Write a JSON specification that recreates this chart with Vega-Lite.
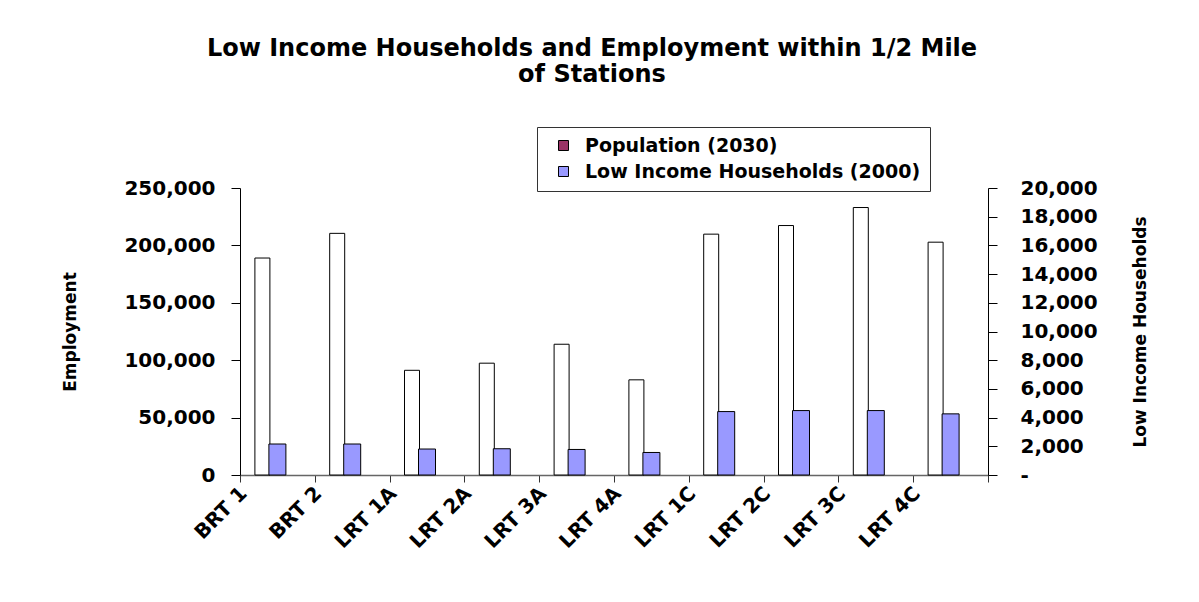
{
  "$schema": "https://vega.github.io/schema/vega-lite/v6.json",
  "autosize": {"type": "none"},
  "width": 748,
  "height": 287,
  "padding": {"left": 240, "top": 188, "right": 211, "bottom": 127},
  "background": "white",
  "title": {
    "text": ["Low Income Households and Employment within 1/2 Mile", "of Stations"],
    "font": "DejaVu Sans",
    "fontWeight": "bold",
    "fontSize": 24,
    "lineHeight": 26,
    "color": "black",
    "anchor": "middle",
    "dx": -22,
    "offset": 40
  },
  "data": {
    "values": [
      {"station": "BRT 1", "employment": 189000, "households": 2160},
      {"station": "BRT 2", "employment": 210500, "households": 2160},
      {"station": "LRT 1A", "employment": 91200, "households": 1810},
      {"station": "LRT 2A", "employment": 97400, "households": 1830},
      {"station": "LRT 3A", "employment": 113900, "households": 1780},
      {"station": "LRT 4A", "employment": 82900, "households": 1570},
      {"station": "LRT 1C", "employment": 209800, "households": 4420},
      {"station": "LRT 2C", "employment": 217300, "households": 4490},
      {"station": "LRT 3C", "employment": 233000, "households": 4490},
      {"station": "LRT 4C", "employment": 202800, "households": 4260}
    ]
  },
  "encoding": {
    "x": {
      "field": "station",
      "type": "nominal",
      "sort": null,
      "scale": {"paddingInner": 0, "paddingOuter": 0},
      "axis": {
        "title": null,
        "labelAngle": -45,
        "labelAlign": "right",
        "labelBaseline": "middle",
        "labelFont": "DejaVu Sans",
        "labelFontWeight": "bold",
        "labelFontSize": 20,
        "labelColor": "black",
        "labelOffset": -34,
        "labelPadding": 8,
        "tickBand": "extent",
        "tickSize": 7,
        "tickColor": "#333",
        "domainColor": "#666",
        "domainWidth": 1.5
      }
    }
  },
  "layer": [
    {
      "mark": {"type": "bar", "width": 15, "xOffset": -15, "fill": "white", "stroke": "black", "strokeWidth": 1},
      "encoding": {
        "y": {
          "field": "employment",
          "type": "quantitative",
          "scale": {"domain": [0, 250000]},
          "axis": {
            "title": "Employment",
            "titleFont": "DejaVu Sans",
            "titleFontWeight": "bold",
            "titleFontSize": 17,
            "titleColor": "black",
            "titlePadding": 44,
            "values": [0, 50000, 100000, 150000, 200000, 250000],
            "labelExpr": "format(datum.value, ',')",
            "labelFont": "DejaVu Sans",
            "labelFontWeight": "bold",
            "labelFontSize": 20,
            "labelColor": "black",
            "labelPadding": 16,
            "tickSize": 9,
            "tickColor": "black",
            "domainColor": "black",
            "grid": false
          }
        }
      }
    },
    {
      "mark": {"type": "bar", "width": 17, "xOffset": 0, "stroke": "black", "strokeWidth": 1},
      "encoding": {
        "y": {
          "field": "households",
          "type": "quantitative",
          "scale": {"domain": [0, 20000]},
          "axis": {
            "orient": "right",
            "title": "Low Income Households",
            "titleAngle": 270,
            "titleFont": "DejaVu Sans",
            "titleFontWeight": "bold",
            "titleFontSize": 17,
            "titleColor": "black",
            "titlePadding": 52,
            "values": [0, 2000, 4000, 6000, 8000, 10000, 12000, 14000, 16000, 18000, 20000],
            "labelExpr": "datum.value == 0 ? '-' : format(datum.value, ',')",
            "labelFont": "DejaVu Sans",
            "labelFontWeight": "bold",
            "labelFontSize": 20,
            "labelColor": "black",
            "labelPadding": 23,
            "tickSize": 9,
            "tickColor": "black",
            "domainColor": "black",
            "grid": false
          }
        },
        "color": {
          "datum": "Low Income Households (2000)",
          "scale": {
            "domain": ["Population (2030)", "Low Income Households (2000)"],
            "range": ["#993366", "#9999FF"]
          },
          "legend": {
            "title": null,
            "orient": "none",
            "legendX": 297,
            "legendY": -61,
            "direction": "vertical",
            "symbolType": "square",
            "symbolSize": 100,
            "symbolStrokeColor": "black",
            "symbolStrokeWidth": 1,
            "symbolOffset": 8,
            "labelFont": "DejaVu Sans",
            "labelFontWeight": "bold",
            "labelFontSize": 19,
            "labelColor": "black",
            "labelLimit": 500,
            "labelOffset": 12,
            "rowPadding": 6,
            "padding": 9,
            "strokeColor": "#333",
            "fillColor": "white"
          }
        }
      }
    }
  ],
  "resolve": {"scale": {"y": "independent"}},
  "config": {"view": {"stroke": null}, "axis": {"grid": false}}
}
